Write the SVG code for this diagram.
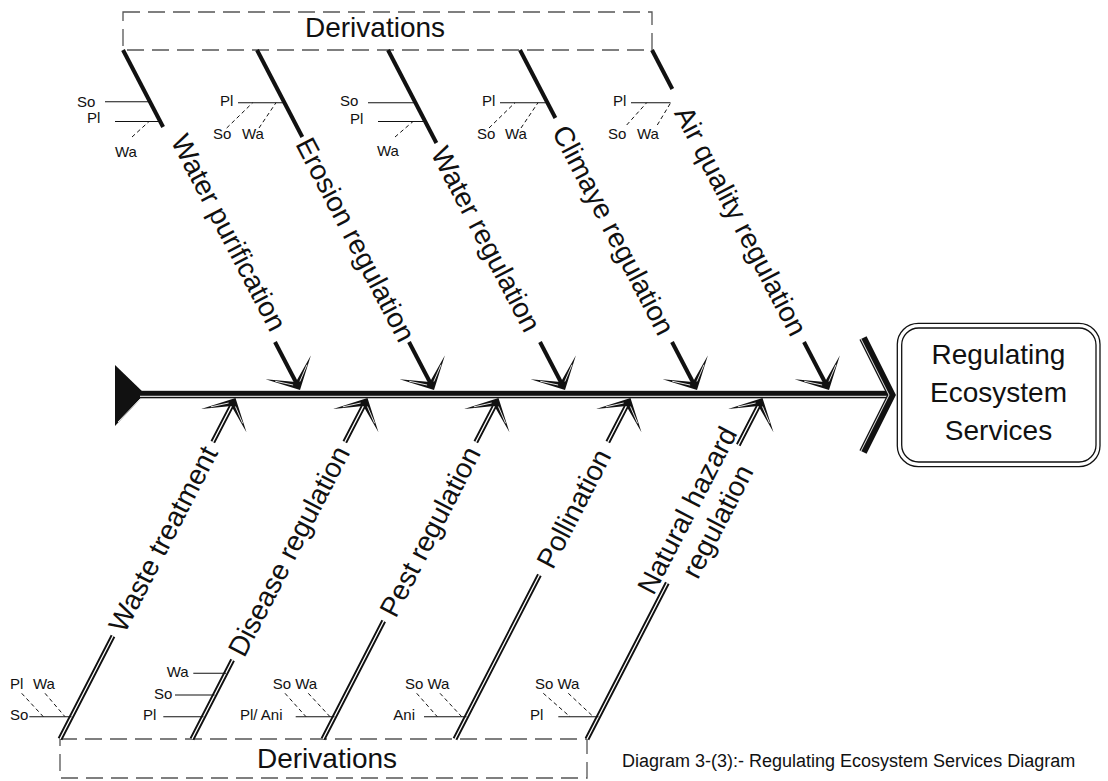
<svg xmlns="http://www.w3.org/2000/svg" xmlns:xlink="http://www.w3.org/1999/xlink" width="1108" height="781" viewBox="0 0 1108 781">
  <style>
    text { font-family: "Liberation Sans", Arial, sans-serif; fill: #111; }
    .big { font-size: 28px; }
    .small { font-size: 15px; }
    .cap { font-size: 18px; }
    .mid { text-anchor: middle; }
    .frame { fill: none; stroke: #555; stroke-width: 1.3; stroke-dasharray: 17 8; }
    .bone { stroke: #111; stroke-width: 4; fill: none; }
    .dbl { stroke: #111; stroke-width: 5; fill: none; }
    .dbl-in { stroke: #fff; stroke-width: 1.3; fill: none; }
    .twig { stroke: #111; stroke-width: 1.1; fill: none; }
    .twig-d { stroke: #111; stroke-width: 1; fill: none; stroke-dasharray: 4 3; }
  </style>
  <defs>
    <!-- barbed arrowhead, tip at origin, pointing along +x -->
    <g id="barb">
      <polygon points="0,0 -25.5,-25.5 -9,0 -25.5,25.5" fill="#111"/>
      <path d="M-7.6,-3.8 L-19.2,-17.9 M-7.6,3.8 L-19.2,17.9" stroke="#fff" stroke-width="0.8"/>
    </g>
  </defs>

  <rect width="1108" height="781" fill="#fff"/>

  <!-- dashed derivation frames -->
  <g id="derivations-top">
    <rect class="frame" x="123" y="12" width="529" height="38"/>
    <text class="big mid" x="375" y="37">Derivations</text>
  </g>
  <g id="derivations-bottom">
    <rect class="frame" x="60" y="739" width="527" height="39"/>
    <text class="big mid" x="327" y="768">Derivations</text>
  </g>

  <!-- bones, spine and arrowheads -->
  <g id="connectors">
    <!-- spine -->
    <polygon points="115,365 145,394 115,426" fill="#111"/>
    <line x1="118" y1="422" x2="141" y2="398" stroke="#fff" stroke-width="0.9"/>
    <rect x="140" y="390.8" width="752" height="7.5" fill="#111"/>
    <line x1="140" y1="396.3" x2="888" y2="396.3" stroke="#fff" stroke-width="1"/>
    <polyline points="863,338 891.5,395 863,452" fill="none" stroke="#111" stroke-width="8"/>
    <polyline points="861,339 889,395 861,451" fill="none" stroke="#fff" stroke-width="0.9"/>

    <!-- upper bones -->
    <line class="bone" x1="123" y1="50" x2="163.1" y2="127"/>
    <line class="bone" x1="275" y1="342" x2="298.2" y2="386.5"/>
    <use xlink:href="#barb" transform="translate(300,390) rotate(62.5)"/>

    <line class="bone" x1="257" y1="50" x2="302.3" y2="137"/>
    <line class="bone" x1="409" y1="342" x2="432.2" y2="386.5"/>
    <use xlink:href="#barb" transform="translate(434,390) rotate(62.5)"/>

    <line class="bone" x1="388" y1="50" x2="436.4" y2="143"/>
    <line class="bone" x1="540" y1="342" x2="563.2" y2="386.5"/>
    <use xlink:href="#barb" transform="translate(565,390) rotate(62.5)"/>

    <line class="bone" x1="520" y1="50" x2="555.4" y2="118"/>
    <line class="bone" x1="672" y1="342" x2="695.2" y2="386.5"/>
    <use xlink:href="#barb" transform="translate(697,390) rotate(62.5)"/>

    <line class="bone" x1="652" y1="50" x2="672.3" y2="89"/>
    <line class="bone" x1="804" y1="342" x2="827.2" y2="386.5"/>
    <use xlink:href="#barb" transform="translate(829,390) rotate(62.5)"/>

    <!-- lower bones (double line) -->
    <path class="dbl" d="M60,739 L113,636 M212.8,442 L233.7,401.6"/>
    <path class="dbl-in" d="M60,739 L113,636 M212.8,442 L233.7,401.6"/>
    <use xlink:href="#barb" transform="translate(235.5,398) rotate(-62.7)"/>

    <path class="dbl" d="M192,739 L232.6,660 M344.8,442 L365.7,401.6"/>
    <path class="dbl-in" d="M192,739 L232.6,660 M344.8,442 L365.7,401.6"/>
    <use xlink:href="#barb" transform="translate(367.5,398) rotate(-62.7)"/>

    <path class="dbl" d="M323,739 L383.7,621 M475.8,442 L496.7,401.6"/>
    <path class="dbl-in" d="M323,739 L383.7,621 M475.8,442 L496.7,401.6"/>
    <use xlink:href="#barb" transform="translate(498.5,398) rotate(-62.7)"/>

    <path class="dbl" d="M455,739 L539.4,575 M607.8,442 L628.7,401.6"/>
    <path class="dbl-in" d="M455,739 L539.4,575 M607.8,442 L628.7,401.6"/>
    <use xlink:href="#barb" transform="translate(630.5,398) rotate(-62.7)"/>

    <path class="dbl" d="M587,739 L667.3,583 M738.3,445 L760.7,401.6"/>
    <path class="dbl-in" d="M587,739 L667.3,583 M738.3,445 L760.7,401.6"/>
    <use xlink:href="#barb" transform="translate(762.5,398) rotate(-62.7)"/>
  </g>

  <!-- upper causes -->
  <g id="water-purification">
    <text class="big mid" transform="translate(229,232.5) rotate(62.5)" dy="0.35em">Water purification</text>
    <text class="small" x="77" y="107">So</text>
    <line class="twig" x1="105" y1="101.7" x2="151" y2="101.7"/>
    <text class="small" x="87" y="123">Pl</text>
    <line class="twig" x1="115" y1="121.5" x2="160.5" y2="121.5"/>
    <text class="small" x="115" y="157">Wa</text>
    <line class="twig-d" x1="132" y1="137" x2="149" y2="121.5"/>
  </g>
  <g id="erosion-regulation">
    <text class="big mid" transform="translate(355.7,239.5) rotate(62.5)" dy="0.35em">Erosion regulation</text>
    <text class="small" x="220" y="106">Pl</text>
    <line class="twig" x1="238" y1="102.7" x2="284.5" y2="102.7"/>
    <text class="small" x="213" y="139">So</text>
    <text class="small" x="242" y="139">Wa</text>
    <line class="twig-d" x1="226.7" y1="128" x2="252.7" y2="102.7"/>
    <line class="twig-d" x1="259" y1="128" x2="276" y2="102.7"/>
  </g>
  <g id="water-regulation">
    <text class="big mid" transform="translate(486.2,239) rotate(62.5)" dy="0.35em">Water regulation</text>
    <text class="small" x="340" y="106">So</text>
    <line class="twig" x1="368" y1="102.7" x2="415.5" y2="102.7"/>
    <text class="small" x="350" y="124">Pl</text>
    <line class="twig" x1="378" y1="121.5" x2="425" y2="121.5"/>
    <text class="small" x="377" y="156">Wa</text>
    <line class="twig-d" x1="395" y1="137" x2="413" y2="121.5"/>
  </g>
  <g id="climate-regulation">
    <text class="big mid" transform="translate(613.7,230) rotate(62.5)" dy="0.35em">Climaye regulation</text>
    <text class="small" x="482" y="106">Pl</text>
    <line class="twig" x1="500" y1="102.7" x2="547.5" y2="102.7"/>
    <text class="small" x="477" y="139">So</text>
    <text class="small" x="505" y="139">Wa</text>
    <line class="twig-d" x1="489" y1="128" x2="515" y2="102.7"/>
    <line class="twig-d" x1="521" y1="128" x2="538" y2="102.7"/>
  </g>
  <g id="air-quality-regulation">
    <text class="big mid" transform="translate(741,221) rotate(62.5)" dy="0.35em">Air quality regulation</text>
    <text class="small" x="613" y="106">Pl</text>
    <line class="twig" x1="631" y1="102.7" x2="670.5" y2="102.7"/>
    <text class="small" x="608" y="139">So</text>
    <text class="small" x="637" y="139">Wa</text>
    <line class="twig-d" x1="626.7" y1="125" x2="646.7" y2="102.7"/>
    <line class="twig-d" x1="657.3" y1="125" x2="670.7" y2="102.7"/>
  </g>

  <!-- lower causes -->
  <g id="waste-treatment">
    <text class="big mid" transform="translate(162.9,539) rotate(-62.7)" dy="0.35em">Waste treatment</text>
    <text class="small" x="10" y="689">Pl</text>
    <text class="small" x="33" y="689">Wa</text>
    <text class="small" x="10" y="720">So</text>
    <line class="twig" x1="29.3" y1="716.7" x2="71.5" y2="716.7"/>
    <line class="twig-d" x1="21.7" y1="693.3" x2="43.3" y2="716.7"/>
    <line class="twig-d" x1="45" y1="693.3" x2="65" y2="716.7"/>
  </g>
  <g id="disease-regulation">
    <text class="big mid" transform="translate(288.7,551) rotate(-62.7)" dy="0.35em">Disease regulation</text>
    <text class="small" x="166.7" y="677">Wa</text>
    <line class="twig" x1="193.3" y1="673.3" x2="226" y2="673.3"/>
    <text class="small" x="154" y="699">So</text>
    <line class="twig" x1="175" y1="695" x2="214.6" y2="695"/>
    <text class="small" x="143" y="720">Pl</text>
    <line class="twig" x1="163.3" y1="716.7" x2="203.5" y2="716.7"/>
  </g>
  <g id="pest-regulation">
    <text class="big mid" transform="translate(429.8,531.5) rotate(-62.7)" dy="0.35em">Pest regulation</text>
    <text class="small" x="272.7" y="689">So Wa</text>
    <text class="small" x="240" y="720">Pl/ Ani</text>
    <line class="twig" x1="295.7" y1="716.7" x2="334.5" y2="716.7"/>
    <line class="twig-d" x1="285" y1="693.3" x2="306" y2="716.7"/>
    <line class="twig-d" x1="308.3" y1="693.3" x2="330" y2="716.7"/>
  </g>
  <g id="pollination">
    <text class="big mid" transform="translate(573.6,508.5) rotate(-62.7)" dy="0.35em">Pollination</text>
    <text class="small" x="405" y="689">So Wa</text>
    <text class="small" x="393.3" y="720">Ani</text>
    <line class="twig" x1="424" y1="716.7" x2="466.5" y2="716.7"/>
    <line class="twig-d" x1="416.7" y1="693.3" x2="437.3" y2="716.7"/>
    <line class="twig-d" x1="440" y1="693.3" x2="461.7" y2="716.7"/>
  </g>
  <g id="natural-hazard-regulation">
    <text class="big mid" transform="translate(702.8,514) rotate(-62.7)">
      <tspan x="0" y="-6">Natural hazard</tspan>
      <tspan x="0" y="26">regulation</tspan>
    </text>
    <text class="small" x="535" y="689">So Wa</text>
    <text class="small" x="530" y="720">Pl</text>
    <line class="twig" x1="558.3" y1="716.7" x2="598.5" y2="716.7"/>
    <line class="twig-d" x1="543.3" y1="693.3" x2="570" y2="716.7"/>
    <line class="twig-d" x1="568.3" y1="693.3" x2="593.3" y2="716.7"/>
  </g>

  <!-- effect box -->
  <g id="regulating-ecosystem-services">
    <rect x="897.3" y="323.3" width="202.7" height="143.4" rx="21" fill="#fff" stroke="#111" stroke-width="1.3"/>
    <rect x="901.7" y="328" width="194.3" height="134" rx="17" fill="none" stroke="#111" stroke-width="1.3"/>
    <text class="big mid" x="998.5" y="364">Regulating</text>
    <text class="big mid" x="998.5" y="402">Ecosystem</text>
    <text class="big mid" x="998.5" y="440">Services</text>
  </g>

  <text class="cap" x="622" y="767">Diagram 3-(3):- Regulating Ecosystem Services Diagram</text>
</svg>
